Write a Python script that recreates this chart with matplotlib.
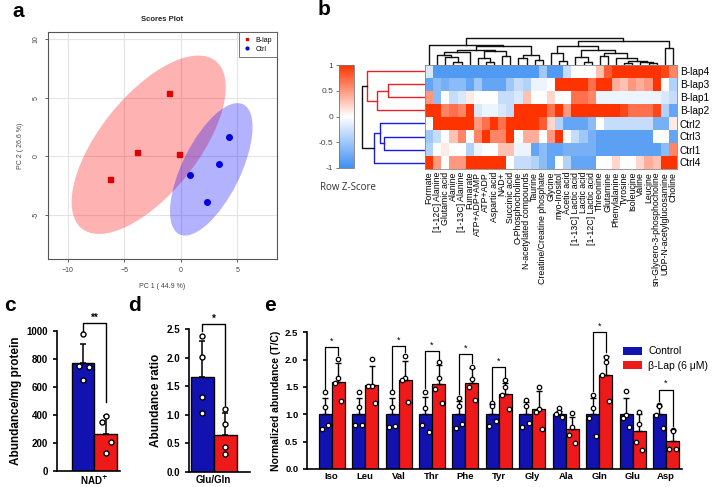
import numpy as np
import matplotlib
matplotlib.use('Agg')
import matplotlib.pyplot as plt
from matplotlib.colors import LinearSegmentedColormap
from matplotlib.patches import Ellipse, Patch

plt.rcParams['font.family'] = ['Liberation Sans', 'DejaVu Sans']

# ---- panel a: PCA scores ----
blap_pc1 = [-1.0, -3.9, -0.18, -6.26]
blap_pc2 = [5.38, 0.37, 0.2, -1.97]
ctrl_pc1 = [4.25, 3.42, 0.8, 2.33]
ctrl_pc2 = [1.68, -0.63, -1.57, -3.9]

# ---- panel b: heatmap (row z-scores) ----
hm_rows = ['B-lap4', 'B-lap3', 'B-lap1', 'B-lap2', 'Ctrl2', 'Ctrl3', 'Ctrl1', 'Ctrl4']
hm_cols = ['Formate', '[1-12C] Alanine', 'Glutamic acid', 'Alanine', '[1-13C] Alanine',
           'Fumarate', 'ATP+ADP+AMP', 'ATP+ADP', 'Aspartic acid', 'NAD+', 'Succinic acid',
           'O-Phosphocholine', 'N-acetylated compounds', 'Taurine',
           'Creatine/Creatine phosphate', 'Glycine', 'myo-Inositol', 'Acetic acid',
           '[1-13C] Lactic acid', 'Lactic acid', '[1-12C] Lactic acid', 'Threonine',
           'Glutamine', 'Phenylalanine', 'Tyrosine', 'Isoleucine', 'Valine', 'Leucine',
           'sn-Glycero-3-phosphocholine', 'UDP-N-acetylglucosamine', 'Choline']
z_blap4 = [-0.2, -0.9, -0.9, -0.9, -0.9, -0.9, -0.9, -0.9, -0.9, -0.9, -0.9, -0.9, -0.9, -0.9,
           -0.5, -0.9, -0.9, -0.3, 0, 0, 0, 0.3, 0.8, 1, 1, 1, 1, 1, 1, 0.9, 0.6]
z_blap3 = [-0.8, -0.6, -0.7, -0.6, -0.6, -0.8, -0.5, -0.8, -0.8, -0.8, -0.5, -0.3, -0.4, -0.1,
           -0.1, 0, 1, 1, 1, 1, 0.7, 1, 1, 0.4, 0.3, 0.5, 0.4, 0.5, 1, 0, -0.4]
z_blap1 = [0.5, -0.6, 0, -0.3, -0.2, 0.1, 0, 0, 0, -0.3, -0.3, -0.2, 0.3, 0, 0, 0.2, 0, 0,
           0.7, 0.7, 0.6, -0.1, -0.1, -0.1, -0.1, -0.1, -0.1, -0.1, -0.1, -0.2, -0.3]
z_blap2 = [1, 1, 0.6, 0.7, 0.6, 1, -0.2, -0.1, -0.1, -0.2, -0.3, 1, 1, 1, 1, 0.7, 1, 0.5,
           1, 1, 1, 1, 1, 1, 0.9, 0.7, 0.7, 0.7, 0.9, -0.4, -0.8]
z_ctrl2 = [0, 1, 1, 1, 1, 1, 0.5, 0.7, 1, 0.7, 1, 1, 1, 1, 0.8, 0.2, -0.4, -0.8, -0.8, -0.8,
           -0.6, 0, -0.3, -0.3, -0.3, -0.3, -0.3, -0.3, -0.7, -0.7, 0.1]
z_ctrl3 = [-0.5, -0.3, 0, 0.3, 0.6, 0, 0.6, 1, 0.6, 0.6, 1, 0, 0.4, 0.4, 0, 0.5, 1, 0, -0.3,
           -0.5, -0.7, -0.85, -0.85, -0.85, -0.85, -0.85, -0.85, -0.85, 0, 0, -0.8]
z_ctrl1 = [-0.4, 0, 0.1, 0, 0, -0.4, -0.1, 0, 0, 0.3, 0.3, -0.1, -0.1, -0.8, -0.6, -0.8, -0.8,
           -0.7, -0.7, -0.7, -0.7, -0.85, -0.85, -0.85, -0.85, -0.85, -0.85, -0.85, -0.85, -0.6, 0.6]
z_ctrl4 = [1, 0.5, 0, 0.5, 0.5, 1, 1, 1, 1, 1, 0, -0.3, -0.3, -0.4, -0.6, -0.8, 0, -0.4, -0.8,
           -0.8, -0.8, 0, 0, 0.2, 0, 0, 0.2, 0.4, 0.3, 1, 1]

# dendrograms: (left, right, height), leaves are row/column indices
row_tree_blap = (0, ((1, 2, 36.7), 3, 47.3), 57.3)
row_tree_ctrl = ((4, (5, 6, 40), 44), 7, 50)
row_root_h = 62.3
col_tree = (
    (0, (((((1, (2, (3, 4, 10), 22), 30), 5, 38),
           ((6, (7, 8, 10), 20), (9, 10, 25), 40), 45),
          ((11, 12, 20), (13, 14, 15), 30), 55)), 60),
    ((((15, (16, 17, 12), 35),
       ((18, (19, 20, 8), 22),
        ((21, 22, 25), (23, ((24, 25, 6), (26, (27, 28, 5), 8), 12), 20), 35), 45), 55)),
     (29, 30, 50), 70),
    80)

# ---- panel c / d ----
nad_mean = [770, 265]
nad_sd = [135, 125]
nad_ctrl_pts = [975, 750, 745, 650]
nad_blap_pts = [390, 350, 208, 130]
gg_mean = [1.67, 0.65]
gg_sd = [0.63, 0.38]
gg_ctrl_pts = [2.38, 2.02, 1.31, 1.03]
gg_blap_pts = [1.1, 0.84, 0.44, 0.31]

# ---- panel e ----
aa = ['Iso', 'Leu', 'Val', 'Thr', 'Phe', 'Tyr', 'Gly', 'Ala', 'Gln', 'Glu', 'Asp']
ctrl_mean = [1.0] * 11
ctrl_sd = [0.3, 0.3, 0.3, 0.32, 0.24, 0.18, 0.22, 0.06, 0.3, 0.3, 0.15]
blap_mean = [1.6, 1.53, 1.62, 1.55, 1.57, 1.37, 1.1, 0.73, 1.72, 0.69, 0.52]
blap_sd = [0.33, 0.35, 0.35, 0.35, 0.28, 0.21, 0.32, 0.22, 0.35, 0.31, 0.2]
ctrl_pts = [[1.4, 1.13, 0.74, 0.8], [1.4, 1.13, 0.8, 0.8], [1.4, 1.13, 0.76, 0.79],
            [1.41, 1.11, 0.8, 0.68], [1.3, 1.15, 0.75, 0.83], [1.2, 1.15, 0.78, 0.87],
            [1.27, 1.15, 0.76, 0.85], [1.12, 1.05, 1.0, 0.95], [1.35, 1.12, 0.93, 0.6],
            [1.42, 0.98, 0.93, 0.77], [1.17, 1.15, 0.98, 0.75]]
blap_pts = [[2.02, 1.66, 1.58, 1.24], [2.02, 1.52, 1.51, 1.2], [2.07, 1.66, 1.63, 1.23],
            [1.95, 1.66, 1.46, 1.21], [1.87, 1.65, 1.5, 1.27], [1.62, 1.5, 1.35, 1.1],
            [1.5, 1.1, 1.05, 0.74], [1.03, 0.76, 0.62, 0.47], [2.05, 1.95, 1.72, 1.25],
            [1.05, 0.83, 0.5, 0.35], [0.72, 0.7, 0.37, 0.36]]
sig_aa = ['Iso', 'Val', 'Thr', 'Phe', 'Tyr', 'Gln', 'Asp']
sig_y = [2.23, 2.25, 2.16, 2.1, 1.86, 2.5, 1.45]

BLUE = '#1212b0'
RED = '#ee1a1a'
W, H = 713, 487


def box(l, t, r, b):
    return [l / W, 1 - b / H, (r - l) / W, (b - t) / H]


def conf_ellipse(ax, xs, ys, color):
    xs, ys = np.asarray(xs), np.asarray(ys)
    vals, vecs = np.linalg.eigh(np.cov(xs, ys))
    vals, vecs = vals[::-1], vecs[:, ::-1]
    ang = np.degrees(np.arctan2(vecs[1, 0], vecs[0, 0]))
    w, h = 2 * np.sqrt(5.991 * vals)
    ax.add_patch(Ellipse((xs.mean(), ys.mean()), w, h, angle=ang,
                         facecolor=color, alpha=0.3, lw=0, zorder=1))


def walk(node, segs):
    if isinstance(node, int):
        return node + 0.5, 0.0
    a, b, h = node
    pa, ha = walk(a, segs)
    pb, hb = walk(b, segs)
    segs.append(([pa, pa, pb, pb], [ha, h, h, hb]))
    return (pa + pb) / 2, h


fig = plt.figure(figsize=(7.13, 4.87), dpi=100)

# ================= a =================
ax = fig.add_axes(box(48, 32, 276.5, 259))
conf_ellipse(ax, blap_pc1, blap_pc2, 'red')
conf_ellipse(ax, ctrl_pc1, ctrl_pc2, 'blue')
ax.plot(blap_pc1, blap_pc2, 's', color='#e00000', ms=3.6, ls='none', zorder=3, label='B-lap')
ax.plot(ctrl_pc1, ctrl_pc2, 'o', color='#0000e0', ms=4, ls='none', zorder=3, label='Ctrl')
ax.set_xlim(-11.74, 8.47)
ax.set_ylim(-8.76, 10.62)
ax.set_xticks([-10, -5, 0, 5])
ax.set_yticks([-5, 0, 5, 10])
ax.set_yticklabels(['-5', '0', '5', '10'], rotation=90, va='center')
ax.grid(True, color='#e4e4e4', lw=0.8)
ax.set_axisbelow(True)
for s in ax.spines.values():
    s.set_color('#555555')
    s.set_linewidth(0.8)
ax.tick_params(labelsize=5, colors='#444444', length=2.5, width=0.6)
ax.set_title('Scores Plot', fontsize=5.5, fontweight='bold', pad=8, color='#222222')
ax.set_xlabel('PC 1 ( 44.9 %)', fontsize=5, color='#444444', labelpad=6)
ax.set_ylabel('PC 2 ( 26.6 %)', fontsize=5, color='#444444', labelpad=6)
leg = ax.legend(loc='upper right', fontsize=5, borderaxespad=0, fancybox=False,
                edgecolor='#555555', handlelength=0.8, handletextpad=0.8,
                borderpad=0.7, labelspacing=0.25, markerscale=0.5)
leg.get_frame().set_linewidth(0.7)

# ================= b =================
Z = np.array([z_blap4, z_blap3, z_blap1, z_blap2, z_ctrl2, z_ctrl3, z_ctrl1, z_ctrl4])
cmap = LinearSegmentedColormap.from_list('bwr2', ['#3f8ff2', '#ffffff', '#ff3300'])
axh = fig.add_axes(box(425, 65, 677, 169))
mesh = axh.pcolormesh(Z, cmap=cmap, vmin=-1, vmax=1)
axh.set_xlim(0, len(hm_cols))
axh.set_ylim(len(hm_rows), 0)
axh.yaxis.tick_right()
axh.set_yticks(np.arange(len(hm_rows)) + 0.5)
axh.set_yticklabels(hm_rows, fontsize=7.3)
axh.set_xticks(np.arange(len(hm_cols)) + 0.5)
axh.set_xticklabels(hm_cols, rotation=90, fontsize=6.3)
axh.tick_params(length=0, pad=2)
for s in axh.spines.values():
    s.set_color('#888888')
    s.set_linewidth(0.6)

# column dendrogram
axc = fig.add_axes(box(425, 37, 677, 65))
segs = []
walk(col_tree, segs)
for xs, ys in segs:
    axc.plot(xs, ys, color='#111111', lw=1.0)
axc.set_xlim(0, len(hm_cols))
axc.set_ylim(0, 82)
axc.axis('off')

# row dendrogram
axr = fig.add_axes(box(361, 65, 425, 169))
for tree, col in [(row_tree_blap, '#e8202a'), (row_tree_ctrl, '#1a1ae0')]:
    segs = []
    walk(tree, segs)
    for ps, hs in segs:
        axr.plot(hs, ps, color=col, lw=1.0)
pr, hr = walk(row_tree_blap, [])
pc, hc = walk(row_tree_ctrl, [])
axr.plot([hr, row_root_h, row_root_h, hc], [pr, pr, pc, pc], color='#111111', lw=1.0)
axr.set_ylim(len(hm_rows), 0)
axr.set_xlim(63, 0)
axr.axis('off')

# colour key
axk = fig.add_axes(box(339, 65, 354, 168))
cb = fig.colorbar(mesh, cax=axk, ticks=[-1, -0.5, 0, 0.5, 1])
cb.ax.yaxis.set_ticks_position('left')
cb.ax.set_yticklabels(['-1', '-0.5', '0', '0.5', '1'])
cb.ax.tick_params(labelsize=6, length=2, width=0.5, colors='#444444', pad=2)
cb.outline.set_edgecolor('#777777')
cb.outline.set_linewidth(0.6)
fig.text(320 / W, 1 - 188 / H, 'Row Z-Score', fontsize=7, color='#333333',
         ha='left', va='center', family=['Open Sans', 'DejaVu Sans'])


def style_bar_axes(ax, labelsize=7):
    for s in ['top', 'right']:
        ax.spines[s].set_visible(False)
    for s in ['left', 'bottom']:
        ax.spines[s].set_linewidth(1.2)
    ax.tick_params(width=1.2, length=3, labelsize=labelsize)
    ax.tick_params(axis='x', length=0, pad=2.5)
    for t in ax.get_xticklabels() + ax.get_yticklabels():
        t.set_fontweight('bold')


def bar_pair(ax, xs, means, sds, width, pts_list, jit):
    ax.bar(xs, means, width=width, color=[BLUE, RED], edgecolor='black', lw=1.0, zorder=2)
    ax.errorbar(xs, means, yerr=[[0] * len(sds), sds], fmt='none', ecolor='black',
                elinewidth=1.1, capsize=2.5, capthick=1.1, zorder=3)
    for x, pts in zip(xs, pts_list):
        ax.plot(x + np.array(jit[:len(pts)]) * width, pts, 'o', mfc='white', mec='black',
                mew=1.0, ms=3.6, ls='none', zorder=4, clip_on=False)


# ================= c =================
axc2 = fig.add_axes(box(57, 331, 120, 470.7))
bar_pair(axc2, [0, 1], nad_mean, nad_sd, 1.0, [nad_ctrl_pts, nad_blap_pts],
         [0.0, -0.17, 0.24, 0.0])
axc2.set_xlim(-1.14, 1.62)
axc2.set_ylim(0, 1000)
axc2.set_yticks([0, 200, 400, 600, 800, 1000])
axc2.set_xticks([0.5])
axc2.set_xticklabels([r'NAD$^{\mathbf{+}}$'])
axc2.set_ylabel('Abundance/mg protein', fontsize=8.5, fontweight='bold', labelpad=3)
style_bar_axes(axc2)
axc2.plot([0, 0, 1, 1], [995, 1055, 1055, 494], color='black', lw=1.0, clip_on=False)
axc2.text(0.5, 1058, '**', ha='center', va='bottom', fontsize=7, fontweight='bold')

# ================= d =================
axd = fig.add_axes(box(189, 329.3, 250, 471.7))
bar_pair(axd, [0, 1], gg_mean, gg_sd, 1.0, [gg_ctrl_pts, gg_blap_pts],
         [0.0, 0.0, 0.0, 0.0])
axd.set_xlim(-0.574, 2.08)
axd.set_ylim(0, 2.5)
axd.set_yticks([0, 0.5, 1.0, 1.5, 2.0, 2.5])
axd.set_yticklabels(['0.0', '0.5', '1.0', '1.5', '2.0', '2.5'])
axd.set_xticks([0.5])
axd.set_xticklabels(['Glu/Gln'])
axd.set_ylabel('Abundance ratio', fontsize=8.5, fontweight='bold', labelpad=3)
style_bar_axes(axd)
axd.plot([0, 0, 1, 1], [2.47, 2.59, 2.59, 1.17], color='black', lw=1.0, clip_on=False)
axd.text(0.5, 2.6, '*', ha='center', va='bottom', fontsize=7, fontweight='bold')

# ================= e =================
axe = fig.add_axes(box(307.3, 332.3, 681.7, 469))
xg = np.arange(len(aa))
bw = 0.39
axe.bar(xg - bw / 2, ctrl_mean, width=bw, color=BLUE, edgecolor='black', lw=0.9, zorder=2)
axe.bar(xg + bw / 2, blap_mean, width=bw, color=RED, edgecolor='black', lw=0.9, zorder=2)
axe.errorbar(xg - bw / 2, ctrl_mean, yerr=[[0] * len(aa), ctrl_sd], fmt='none',
             ecolor='black', elinewidth=1.0, capsize=2.2, capthick=1.0, zorder=3)
axe.errorbar(xg + bw / 2, blap_mean, yerr=[[0] * len(aa), blap_sd], fmt='none',
             ecolor='black', elinewidth=1.0, capsize=2.2, capthick=1.0, zorder=3)
jit = np.array([0.0, 0.0, -0.25, 0.25])
for i in range(len(aa)):
    axe.plot(xg[i] - bw / 2 + jit * bw, ctrl_pts[i], 'o', mfc='white', mec='black',
             mew=0.9, ms=3.2, ls='none', zorder=4)
    axe.plot(xg[i] + bw / 2 + jit * bw, blap_pts[i], 'o', mfc='white', mec='black',
             mew=0.9, ms=3.2, ls='none', zorder=4)
for name, yb in zip(sig_aa, sig_y):
    i = aa.index(name)
    yl = max(max(ctrl_pts[i]), ctrl_mean[i] + ctrl_sd[i]) + 0.07
    yr = max(max(blap_pts[i]), blap_mean[i] + blap_sd[i]) + 0.07
    axe.plot([i - bw / 2, i - bw / 2, i + bw / 2, i + bw / 2], [yl, yb, yb, yr],
             color='black', lw=0.9, clip_on=False)
    axe.text(i, yb + 0.03, '*', ha='center', va='bottom', fontsize=6.5)
axe.set_xlim(-0.73, 10.47)
axe.set_ylim(0, 2.5)
axe.set_yticks([0, 0.5, 1.0, 1.5, 2.0, 2.5])
axe.set_yticklabels(['0.0', '0.5', '1.0', '1.5', '2.0', '2.5'])
axe.set_xticks(xg)
axe.set_xticklabels(aa)
axe.set_ylabel('Normalized abundance (T/C)', fontsize=7.5, fontweight='bold', labelpad=3)
style_bar_axes(axe, labelsize=6.8)
handles = [Patch(facecolor=BLUE, edgecolor='none'), Patch(facecolor=RED, edgecolor='none')]
fig.legend(handles, ['Control', '\u03b2-Lap (6 \u03bcM)'], loc='upper left',
           bbox_to_anchor=(614 / W, 1 - 337 / H), frameon=False, fontsize=7.5,
           handlelength=1.8, handleheight=0.8, handletextpad=0.6, labelspacing=0.4)

# panel letters
for lab, px, py in [('a', 12, 17), ('b', 318, 15), ('c', 4, 311), ('d', 128, 311),
                    ('e', 264, 311)]:
    fig.text(px / W, 1 - py / H, lab, fontsize=15, fontweight='bold', ha='left',
             va='baseline')

fig.savefig('out.png', dpi=100)
